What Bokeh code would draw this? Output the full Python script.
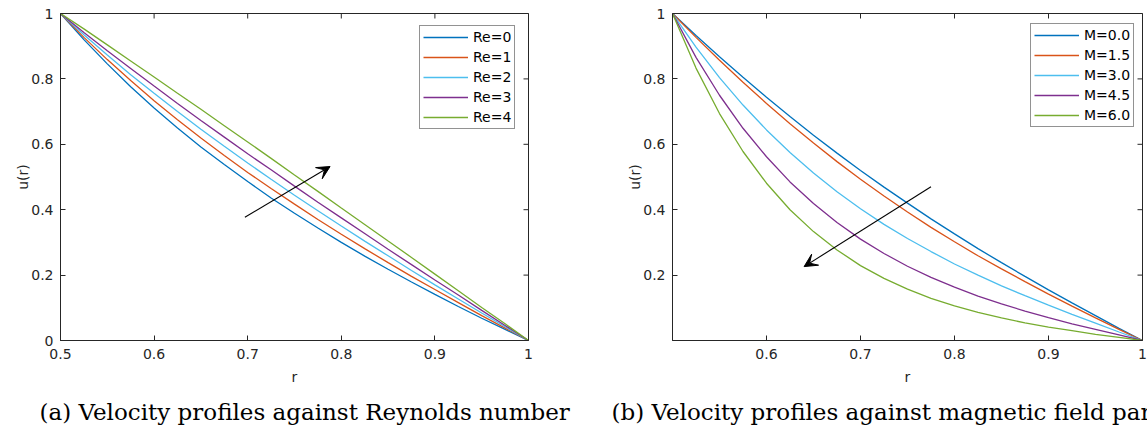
import math
from bokeh.plotting import figure
from bokeh.models import (Range1d, FixedTicker, Legend, LegendItem, Title,
                          Arrow, VeeHead, NumeralTickFormatter)
from bokeh.layouts import row
from bokeh.embed import file_html
from bokeh.resources import INLINE

# ---------------- data ----------------
colors = ["#0072BD", "#D95319", "#4DBEEE", "#7E2F8E", "#77AC30"]

# (a) Reynolds number
r_a = [0.500, 0.525, 0.550, 0.575, 0.600, 0.625, 0.650, 0.675, 0.700, 0.725, 0.750,
       0.775, 0.800, 0.825, 0.850, 0.875, 0.900, 0.925, 0.950, 0.975, 1.000]
re_labels = ["Re=0", "Re=1", "Re=2", "Re=3", "Re=4"]
u_re0 = [1.000, 0.920, 0.846, 0.776, 0.711, 0.650, 0.592, 0.538, 0.486, 0.436, 0.389,
         0.344, 0.300, 0.258, 0.218, 0.179, 0.141, 0.104, 0.068, 0.034, 0.000]
u_re1 = [1.000, 0.927, 0.859, 0.795, 0.733, 0.675, 0.619, 0.566, 0.514, 0.465, 0.417,
         0.370, 0.325, 0.281, 0.238, 0.196, 0.156, 0.116, 0.076, 0.038, 0.000]
u_re2 = [1.000, 0.935, 0.873, 0.813, 0.756, 0.700, 0.646, 0.594, 0.543, 0.493, 0.444,
         0.397, 0.350, 0.304, 0.259, 0.214, 0.170, 0.127, 0.084, 0.042, 0.000]
u_re3 = [1.000, 0.942, 0.886, 0.832, 0.778, 0.725, 0.673, 0.622, 0.571, 0.522, 0.472,
         0.423, 0.375, 0.327, 0.279, 0.232, 0.185, 0.139, 0.092, 0.046, 0.000]
u_re4 = [1.000, 0.953, 0.904, 0.855, 0.806, 0.756, 0.707, 0.657, 0.607, 0.557, 0.506,
         0.456, 0.405, 0.355, 0.304, 0.254, 0.203, 0.152, 0.101, 0.051, 0.000]

# (b) magnetic field parameter
r_b = [0.500, 0.525, 0.550, 0.575, 0.600, 0.625, 0.650, 0.675, 0.700, 0.725, 0.750,
       0.775, 0.800, 0.825, 0.850, 0.875, 0.900, 0.925, 0.950, 0.975, 1.000]
m_labels = ["M=0.0", "M=1.5", "M=3.0", "M=4.5", "M=6.0"]
u_m00 = [1.000, 0.933, 0.868, 0.805, 0.744, 0.685, 0.628, 0.573, 0.520, 0.469, 0.420,
         0.372, 0.326, 0.281, 0.238, 0.196, 0.155, 0.115, 0.076, 0.037, 0.000]
u_m15 = [1.000, 0.927, 0.857, 0.790, 0.725, 0.663, 0.604, 0.547, 0.493, 0.442, 0.393,
         0.346, 0.302, 0.259, 0.219, 0.180, 0.142, 0.105, 0.069, 0.034, 0.000]
u_m30 = [1.000, 0.897, 0.804, 0.720, 0.644, 0.575, 0.512, 0.455, 0.403, 0.355, 0.312,
         0.272, 0.234, 0.200, 0.167, 0.137, 0.108, 0.080, 0.053, 0.026, 0.000]
u_m45 = [1.000, 0.866, 0.750, 0.649, 0.562, 0.485, 0.419, 0.361, 0.310, 0.266, 0.227,
         0.193, 0.163, 0.136, 0.112, 0.090, 0.070, 0.051, 0.034, 0.017, 0.000]
u_m60 = [1.000, 0.833, 0.694, 0.578, 0.481, 0.400, 0.333, 0.277, 0.229, 0.190, 0.157,
         0.129, 0.106, 0.086, 0.069, 0.054, 0.041, 0.030, 0.019, 0.0095, 0.000]

x_ticks_a = [0.5, 0.6, 0.7, 0.8, 0.9, 1.0]
y_ticks_a = [0, 0.2, 0.4, 0.6, 0.8, 1.0]
x_ticks_b = [0.6, 0.7, 0.8, 0.9, 1.0]
y_ticks_b = [0.2, 0.4, 0.6, 0.8, 1.0]

arrow_a = (0.697, 0.377, 0.788, 0.532)   # x_start, y_start, x_end, y_end
arrow_b = (0.775, 0.470, 0.640, 0.226)

caption_a = "(a) Velocity profiles against Reynolds number"
caption_b = "(b) Velocity profiles against magnetic field parameter"

AX = "#262626"
FONT = "DejaVu Sans"
H = 435


def style_axis(ax, ticks):
    ax.ticker = FixedTicker(ticks=ticks)
    ax.formatter = NumeralTickFormatter(format="0.[0]")
    ax.major_tick_in = 5
    ax.major_tick_out = 0
    ax.minor_tick_line_color = None
    ax.axis_line_color = AX
    ax.major_tick_line_color = AX
    ax.major_label_text_font = FONT
    ax.major_label_text_color = AX
    ax.major_label_text_font_size = "14px"
    ax.axis_label_text_font = FONT
    ax.axis_label_text_font_size = "14px"
    ax.axis_label_text_font_style = "normal"
    ax.axis_label_text_color = AX


def make_panel(width, mbl, mbr, xs, series, labels, xt, yt, arrow, caption, cap_off, leg_loc):
    p = figure(width=width, height=H, x_range=Range1d(0.5, 1.0), y_range=Range1d(0, 1.0),
               output_backend="svg", toolbar_location=None,
               min_border_left=mbl, min_border_right=mbr, min_border_top=13,
               min_border_bottom=H - 13 - 327)
    p.grid.visible = False
    p.outline_line_color = AX
    p.background_fill_color = "white"
    p.border_fill_color = "white"

    style_axis(p.xaxis[0], xt)
    style_axis(p.yaxis[0], yt)
    p.xaxis[0].major_label_standoff = 8
    p.yaxis[0].major_label_standoff = 7
    p.xaxis[0].axis_label = "r"
    p.yaxis[0].axis_label = "u(r)"
    p.xaxis[0].axis_label_standoff = 7
    p.yaxis[0].axis_label_standoff = -3

    # inward ticks on the top and right edges of the box (clipped to the frame)
    p.scatter(xt, [1.0] * len(xt), marker="dash", size=10, angle=math.pi / 2,
              line_color=AX, line_width=1)
    p.scatter([1.0] * len(yt), yt, marker="dash", size=10,
              line_color=AX, line_width=1)

    items = []
    for ys, lab, c in zip(series, labels, colors):
        rr = p.line(xs, ys, line_color=c, line_width=1.3)
        items.append(LegendItem(label=lab, renderers=[rr]))

    leg = Legend(items=items, location=leg_loc)
    leg.label_text_font = FONT
    leg.label_text_font_size = "14px"
    leg.label_text_color = "black"
    leg.glyph_width = 45
    leg.glyph_height = 16
    leg.label_height = 16
    leg.label_standoff = 5
    leg.spacing = 4
    leg.padding = 3
    leg.margin = 0
    leg.border_line_color = AX
    leg.border_line_width = 1
    leg.background_fill_color = "white"
    leg.background_fill_alpha = 1
    p.add_layout(leg, "center")

    xs0, ys0, xe, ye = arrow
    p.add_layout(Arrow(x_start=xs0, y_start=ys0, x_end=xe, y_end=ye,
                       line_color="black", line_width=1.1,
                       end=VeeHead(size=13, fill_color="black", line_color="black")))

    p.add_layout(Title(text=caption, align="left", offset=cap_off, standoff=19,
                       text_font="DejaVu Serif", text_font_size="23px",
                       text_font_style="normal", text_color="black"), "below")
    return p


p1 = make_panel(600, 60, 72, r_a, [u_re0, u_re1, u_re2, u_re3, u_re4], re_labels,
                x_ticks_a, y_ticks_a, arrow_a, caption_a, -21, (359, 211))
p2 = make_panel(547, 72, 5, r_b, [u_m00, u_m15, u_m30, u_m45, u_m60], m_labels,
                x_ticks_b, y_ticks_b, arrow_b, caption_b, -61, (358, 213))

layout = row(p1, p2)
open("out.html", "w").write(file_html(layout, INLINE))
